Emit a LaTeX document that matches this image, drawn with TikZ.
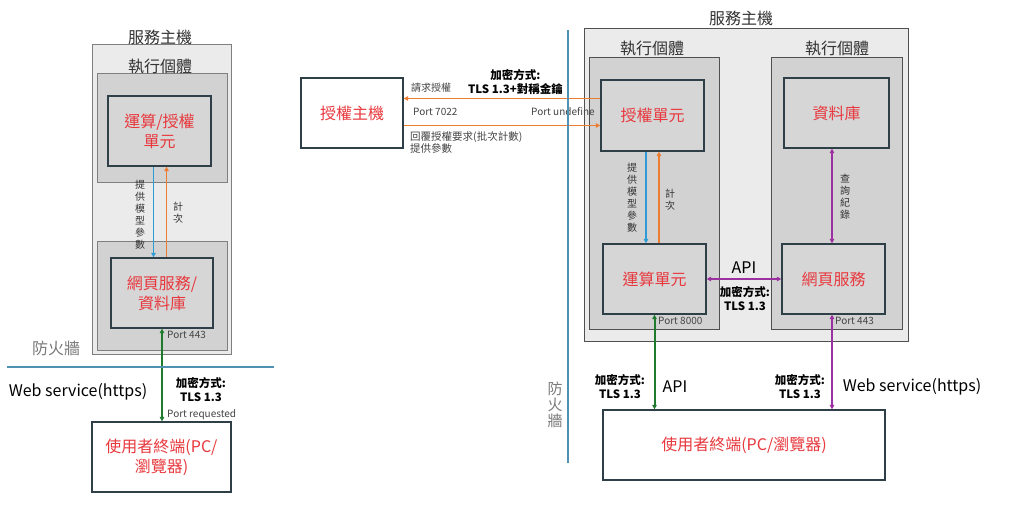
\documentclass[tikz,border=0pt]{standalone}
\usepackage{fontspec}
\setmainfont{Noto Sans CJK TC}
\usepackage{xcolor}
\usetikzlibrary{arrows.meta}

\definecolor{unitred}{HTML}{E8383D}
\definecolor{hostfill}{HTML}{EBEBEB}
\definecolor{hostline}{HTML}{7F7F7F}
\definecolor{execfill}{HTML}{D2D2D2}
\definecolor{execline}{HTML}{505050}
\definecolor{unitfill}{HTML}{D6D6D6}
\definecolor{unitline}{HTML}{2F3F47}
\definecolor{titlegray}{HTML}{333333}
\definecolor{textgray}{HTML}{444444}
\definecolor{wallgray}{HTML}{7A7A7A}
\definecolor{wallblue}{HTML}{5090B0}
\definecolor{arrowblue}{HTML}{2E9BD6}
\definecolor{arroworange}{HTML}{ED7D31}
\definecolor{arrowgreen}{HTML}{1E7B2E}
\definecolor{arrowpurple}{HTML}{9B30A0}

\tikzset{
	wh/.style 2 args = {minimum width = #1pt, minimum height = #2pt, inner sep = 0pt},
	host/.style = {draw = hostline, fill = hostfill, line width = 0.9pt},
	exec/.style = {draw = execline, fill = execfill, line width = 0.9pt},
	unit/.style = {draw = unitline, fill = unitfill, line width = 1.3pt, text = unitred, align = center, font = \fontsize{16}{20}\selectfont},
	term/.style = {unit, fill = white},
	title/.style = {text = titlegray, font = \fontsize{16}{18}\selectfont},
	tiny/.style = {text = textgray, inner sep = 0pt, font = \fontsize{10}{12}\selectfont},
	note/.style = {align = center, inner sep = 0pt, font = \fontsize{11.5}{14}\selectfont\bfseries},
	big/.style = {inner sep = 0pt, font = \fontsize{16}{18}\selectfont},
	vlabel/.style = {align = center, inner sep = 0pt, text = titlegray, font = \fontsize{10}{12}\selectfont},
	> = {Triangle[length = 4.5pt, width = 4.5pt]},
	blu/.style = {draw = arrowblue, line width = 1.1pt, ->},
	ora/.style = {draw = arroworange, line width = 1.1pt, ->},
	grn/.style = {draw = arrowgreen, line width = 2pt, <->},
	pur/.style = {draw = arrowpurple, line width = 2pt, <->},
	wall/.style = {draw = wallblue, line width = 1.5pt}
}

\begin{document}
\begin{tikzpicture}[x = 1pt, y = -1pt]
	\fill[white] (0,0) rectangle (1015,530);
	
	% left: single host
	\node[host, wh = {139}{310}] (lhost) at (161.5,199) {};
	\node[exec, draw = hostline, wh = {130}{109}] (lexecA) at (162,127.5) {};
	\node[exec, draw = hostline, wh = {130}{109}] (lexecB) at (162,295.5) {};
	\node[title] (ltitle) at (160,37) {服務主機};
	\node[title] (lexectitle) at (160,66) {執行個體};
	\node[unit, wh = {103}{70}] (lcalc) at (159.5,131) {運算/授權\\單元};
	\node[unit, wh = {102}{70}] (lweb) at (162,293) {網頁服務/\\資料庫};
	\node[term, wh = {139}{70}] (luser) at (161.5,457) {使用者終端(PC/\\瀏覽器)};
	
	\draw[blu] ([xshift = -6pt]lcalc.south) -- ([xshift = -6pt]lcalc.south |- lweb.north);
	\draw[ora] ([xshift = 7pt]lcalc.south |- lweb.north) -- ([xshift = 7pt]lcalc.south);
	\node[vlabel] (lparam) at (140,215) {提\\供\\模\\型\\參\\數};
	\node[vlabel] (lcount) at (178,213) {計\\次};
	\draw[grn] (lweb.south) -- (lweb.south |- luser.north);
	\node[tiny, anchor = west] (lport) at (167,335) {Port 443};
	\node[tiny, anchor = west] (lreq) at (167,415) {Port requested};
	\node[note] (lenc) at (201,390) {加密方式:\\TLS 1.3};
	\node[big] (lhttps) at (78,392) {Web service(https)};
	
	\coordinate (lwallA) at (7,367);
	\coordinate (lwallB) at (274,367);
	\draw[wall] (lwallA) -- (lwallB);
	\node[title, text = wallgray] (lwall) at (56,348) {防火牆};
	
	% right: license host and split host
	\node[term, wh = {102}{70}] (auth) at (352,113) {授權主機};
	\node[host, draw = execline, wh = {324}{313}] (rhost) at (746,184.5) {};
	\node[exec, wh = {130}{272}] (rexecA) at (654,193) {};
	\node[exec, wh = {131}{272}] (rexecB) at (836.5,193) {};
	\node[title] (rtitle) at (741,18) {服務主機};
	\node[title] (rexectitleA) at (652,48) {執行個體};
	\node[title] (rexectitleB) at (837,48) {執行個體};
	\node[unit, wh = {103}{71}] (authu) at (652.5,115.5) {授權單元};
	\node[unit, wh = {105}{70}] (db) at (836.5,113) {資料庫};
	\node[unit, wh = {103}{70}] (calc) at (654.5,279) {運算單元};
	\node[unit, wh = {103}{70}] (web) at (833.5,279) {網頁服務};
	\node[term, wh = {282}{70}] (ruser) at (744,445) {使用者終端(PC/瀏覽器)};
	
	\draw[ora] ([yshift = 17pt]authu.west) -- ([yshift = 17pt]authu.west -| auth.east);
	\draw[ora] ([yshift = -10pt]authu.west -| auth.east) -- ([yshift = -10pt]authu.west);
	\node[tiny, anchor = west] (ask) at (411,88) {請求授權};
	\node[note] (authenc) at (515.5,82) {加密方式:\\TLS 1.3+對稱金鑰};
	\node[tiny, anchor = west] (p7022) at (413,112) {Port 7022};
	\node[tiny, anchor = west] (pundef) at (531,112) {Port undefine};
	\node[tiny, anchor = north west, align = left, font = \fontsize{10.5}{12.5}\selectfont] (reply) at (410,131) {回覆授權要求(批次計數)\\提供參數};
	
	\draw[blu] ([xshift = -6.5pt]authu.south) -- ([xshift = -6.5pt]authu.south |- calc.north);
	\draw[ora] ([xshift = 6.5pt]authu.south |- calc.north) -- ([xshift = 6.5pt]authu.south);
	\node[vlabel] (rparam) at (632,198) {提\\供\\模\\型\\參\\數};
	\node[vlabel] (rcount) at (670,200) {計\\次};
	\draw[pur] ([xshift = -4.5pt]db.south) -- ([xshift = -4.5pt]db.south |- web.north);
	\node[vlabel] (query) at (845,197) {查\\詢\\紀\\錄};
	
	\draw[pur] (calc.east) -- (web.west);
	\node[big] (api) at (744,268) {API};
	\node[note] (apienc) at (745,299) {加密方式:\\TLS 1.3};
	\node[tiny, anchor = west] (p8000) at (658,321) {Port 8000};
	\node[tiny, anchor = west] (p443) at (835,321) {Port 443};
	
	\draw[grn] (calc.south) -- (calc.south |- ruser.north);
	\draw[pur] ([xshift = -1.5pt]web.south) -- ([xshift = -1.5pt]web.south |- ruser.north);
	\node[note] (calcenc) at (620,387) {加密方式:\\TLS 1.3};
	\node[big] (calcapi) at (675,387) {API};
	\node[note] (webenc) at (800,387) {加密方式:\\TLS 1.3};
	\node[big] (rhttps) at (912,387) {Web service(https)};
	
	\coordinate (rwallA) at (568,30);
	\coordinate (rwallB) at (568,463);
	\draw[wall] (rwallA) -- (rwallB);
	\node[vlabel, text = wallgray, font = \fontsize{15}{16}\selectfont] (rwall) at (555,405) {防\\火\\牆};
\end{tikzpicture}
\end{document}
